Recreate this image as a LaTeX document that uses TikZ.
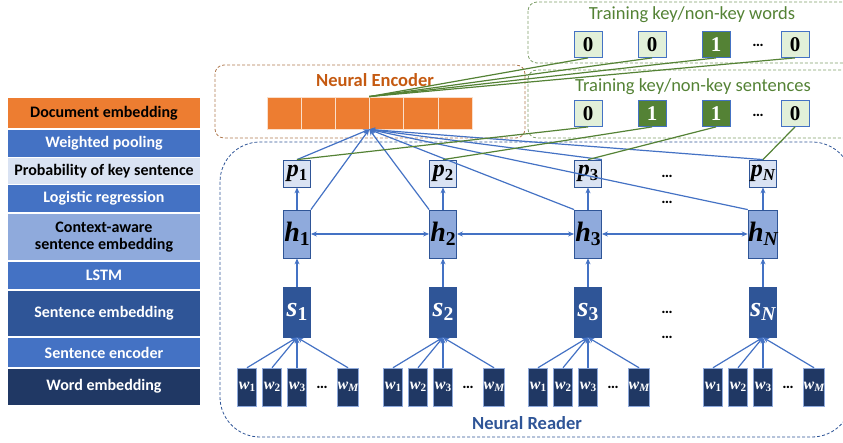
\documentclass[tikz,border=0pt]{standalone}
\usepackage{fontspec}
\setmainfont{Carlito}
\newfontfamily\varfont{Liberation Serif}
\usetikzlibrary{arrows.meta}

\definecolor{encorange}{HTML}{ED7D31}
\definecolor{encbrown}{HTML}{C55A11}
\definecolor{midblue}{HTML}{4472C4}
\definecolor{paleblue}{HTML}{DAE3F3}
\definecolor{softblue}{HTML}{8FAADC}
\definecolor{deepblue}{HTML}{2F5597}
\definecolor{navyblue}{HTML}{203864}
\definecolor{keygreen}{HTML}{548235}
\definecolor{palegreen}{HTML}{E2F0D9}
\definecolor{dashgreen}{HTML}{7F9F6A}
\definecolor{dashbrown}{HTML}{B07A50}

% variable with subscript
\newcommand{\vsub}[2]{{\varfont\bfseries\itshape #1}\raisebox{-0.3ex}{\scalebox{0.7}{\varfont\bfseries #2}}}

\tikzset{
  legend/.style={draw=white, line width=1.2pt, minimum width=194, align=center,
    inner sep=0pt, font=\bfseries\fontsize{16}{17.5}\selectfont},
  enccell/.style={draw=white!75!encorange, fill=encorange, line width=0.8pt,
    minimum width=34.2, minimum height=32, inner sep=0pt},
  keybox/.style={draw=midblue, fill=palegreen, line width=0.8pt, minimum width=28,
    minimum height=26, inner sep=0pt, font=\varfont\bfseries\fontsize{21}{21}\selectfont},
  keyon/.style={keybox, fill=keygreen, text=white},
  pbox/.style={draw=deepblue, fill=paleblue, line width=0.8pt, minimum width=27,
    minimum height=27, inner sep=0pt, font=\fontsize{24}{24}\selectfont},
  hbox/.style={draw=deepblue, fill=softblue, line width=0.8pt, minimum width=27,
    minimum height=48, inner sep=0pt, font=\fontsize{28}{28}\selectfont},
  sbox/.style={draw=deepblue, fill=deepblue, text=white, line width=0.8pt, minimum width=27,
    minimum height=50, inner sep=0pt, font=\fontsize{28}{28}\selectfont},
  wbox/.style={draw=softblue, fill=navyblue, text=white, line width=0.5pt, minimum width=19,
    minimum height=38, inner sep=0pt, font=\fontsize{16}{16}\selectfont},
  dots/.style={inner sep=0pt, font=\bfseries\fontsize{16}{16}\selectfont},
  arr/.style={midblue, line width=1.2pt, -{Stealth[length=6pt,width=5pt]}},
  biarr/.style={midblue, line width=1.2pt, {Stealth[length=6pt,width=5pt]}-{Stealth[length=6pt,width=5pt]}},
  gline/.style={keygreen, line width=1.2pt},
  area/.style={line width=0.8pt, dash pattern=on 3pt off 2pt}
}

\begin{document}
\begin{tikzpicture}[x=1pt,y=-1pt]
\useasboundingbox (0,0) rectangle (843,443);

% legend on the left
\node[legend, fill=encorange, minimum height=32] (ldoc) at (104,113) {Document embedding};
\node[legend, fill=midblue, text=white, minimum height=28.5] (lpool) at (104,143.2) {Weighted pooling};
\node[legend, fill=paleblue, minimum height=27] (lprob) at (104,171) {Probability of key sentence};
\node[legend, fill=midblue, text=white, minimum height=28.5] (llogit) at (104,198.7) {Logistic regression};
\node[legend, fill=softblue, minimum height=48] (lctx) at (104,237) {Context-aware\\sentence embedding};
\node[legend, fill=midblue, text=white, minimum height=29] (llstm) at (104,275.5) {LSTM};
\node[legend, fill=deepblue, text=white, minimum height=47] (lsemb) at (104,313.5) {Sentence embedding};
\node[legend, fill=midblue, text=white, minimum height=31] (lsenc) at (104,352.5) {Sentence encoder};
\node[legend, fill=navyblue, text=white, minimum height=37.5] (lwemb) at (104,386.7) {Word embedding};

% dashed areas
\draw[area, dashbrown, rounded corners=9] (215,65) rectangle (525,138);
\draw[area, dashgreen, rounded corners=9] (528,2) rectangle (852,63);
\draw[area, dashgreen, rounded corners=9] (528,70) rectangle (852,138);
\draw[area, deepblue, rounded corners=40] (220,142) rectangle (852,437);

\node[font=\bfseries\fontsize{18.5}{18.5}\selectfont, text=encbrown] (enclabel) at (375,80) {Neural Encoder};
\node[font=\bfseries\fontsize{18.5}{18.5}\selectfont, text=deepblue] (readlabel) at (527,423) {Neural Reader};
\node[font=\fontsize{18.5}{18.5}\selectfont, text=keygreen] (wordlabel) at (692,15) {Training key/non-key words};
\node[font=\fontsize{18.5}{18.5}\selectfont, text=keygreen] (sentlabel) at (693,87) {Training key/non-key sentences};

% document embedding cells
\foreach \i in {1,...,6}
  \node[enccell] (e\i) at ({267+34.2*(\i-0.5)},113) {};
\coordinate (efoc) at (e4.south west);

% training labels
\node[keybox] (kw1) at (588,44.5) {0};
\node[keybox] (kw2) at (652,44.5) {0};
\node[keyon] (kw3) at (716,44.5) {1};
\node[dots] (kwdots) at (758,45) {…};
\node[keybox] (kw4) at (795,44.5) {0};
\node[keybox] (ks1) at (588,113.5) {0};
\node[keyon] (ks2) at (652,113.5) {1};
\node[keyon] (ks3) at (716,113.5) {1};
\node[dots] (ksdots) at (758,115) {…};
\node[keybox] (ks4) at (795,113.5) {0};

% sentence columns
\foreach \c/\x/\n in {1/297/1, 2/443/2, 3/588/3, N/763/\itshape N} {
  \node[pbox] (p\c) at (\x,173.5) {\vsub{p}{\n}};
  \node[hbox] (h\c) at (\x,234) {\vsub{h}{\n}};
  \node[sbox] (s\c) at (\x,312) {\vsub{s}{\n}};
  \draw[arr] (h\c.north) -- (p\c.south);
  \draw[arr] (s\c.north) -- (h\c.south);
  \foreach \k/\dx/\m in {1/-50/1, 2/-25/2, 3/0/3, M/51/\itshape M} {
    \node[wbox] (w\c\k) at (\x+\dx,387) {\vsub{w}{\m}};
    \draw[arr] (w\c\k.north) -- (s\c.south);
  }
  \node[dots] (wdots\c) at (\x+25,387) {…};
}
\node[dots] (pdots) at (667,176) {…};
\node[dots] (hdots) at (667,202) {…};
\node[dots] (sdots) at (667,312) {…};
\node[dots] (sdots2) at (667,337) {…};

% bidirectional lstm
\draw[biarr] (h1.east) -- (h2.west);
\draw[biarr] (h2.east) -- (h3.west);
\draw[biarr] (h3.east) -- (hN.west);

% weighted pooling into the encoder
\draw[arr] (p1.north) -- (efoc);
\draw[arr] (h1.north east) -- (efoc);
\draw[arr] (h2.north west) -- (efoc);
\draw[arr] (h3.north west) -- (efoc);
\draw[arr] (p3.north east) -- (efoc);
\draw[arr] (hN.north west) -- (efoc);
\draw[arr] (pN.north) -- (efoc);

% green training links
\foreach \k in {1,...,4}
  \draw[gline] (e4.north west) -- (kw\k.south);
\draw[gline] (ks1.south) -- (p1.north);
\draw[gline] (ks2.south) -- (p2.north);
\draw[gline] (ks3.south) -- (p3.north);
\draw[gline] (ks4.south) -- (pN.north);
\end{tikzpicture}
\end{document}
